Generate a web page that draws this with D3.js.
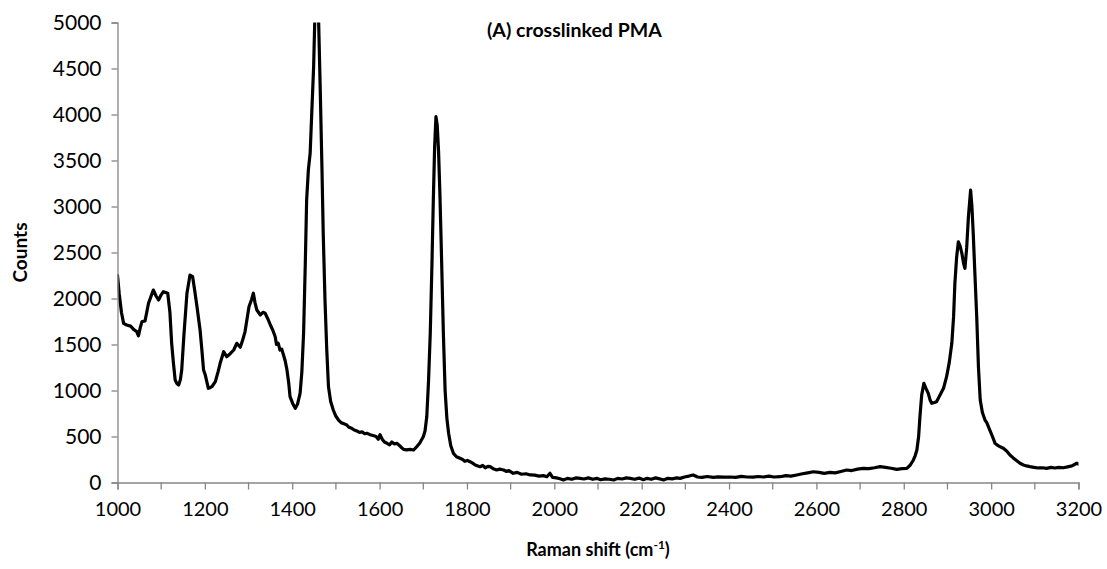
<!DOCTYPE html>
<html>
<head>
<meta charset="utf-8">
<script src="https://cdn.jsdelivr.net/npm/d3@7/dist/d3.min.js"></script>
<style>
  html, body { margin: 0; padding: 0; background: #fff; }
  svg { display: block; }
  text { font-family: Lato, "Open Sans", "Liberation Sans", sans-serif; fill: #000; }
</style>
</head>
<body>
<svg id="chart" width="1107" height="569"></svg>
<script>
// Raman spectrum of crosslinked PMA
const ramanShift = [
  1000,1004,1009,1014,1021,1030,1038,1044,1048,1052,1056,1063,1071,1082,1088,1094,1100,1105,1115,1120,
  1124,1128,1132,1136,1140,1144,1147,1152,1159,1166,1172,1177,1182,1189,1193,1197,1201,1208,1212,1216,
  1224,1230,1235,1243,1250,1258,1266,1273,1281,1286,1292,1301,1307,1311,1315,1319,1327,1333,1338,1344,
  1350,1356,1361,1364,1368,1372,1376,1380,1384,1388,1392,1395,1401,1407,1412,1418,1422,1426,1430,1433,
  1437,1441,1445,1449,1452,1456,1460,1464,1468,1471,1475,1479,1483,1488,1494,1500,1506,1512,1518,1525,
  1530,1536,1542,1548,1554,1560,1566,1571,1578,1585,1592,1597,1601,1606,1611,1617,1623,1628,1634,1640,
  1646,1650,1655,1662,1670,1678,1685,1692,1700,1704,1708,1712,1716,1720,1723,1726,1729,1732,1735,1738,
  1741,1746,1750,1754,1758,1763,1769,1776,1784,1790,1795,1801,1807,1813,1819,1825,1830,1836,1842,1848,
  1853,1860,1868,1875,1884,1890,1896,1906,1915,1925,1935,1945,1955,1965,1975,1983,1990,1996,2005,2013,
  2021,2030,2040,2050,2059,2068,2078,2088,2097,2106,2116,2126,2136,2145,2155,2165,2174,2184,2194,2204,
  2212,2222,2232,2241,2250,2260,2270,2280,2288,2298,2308,2318,2328,2338,2350,2364,2375,2388,2402,2415,
  2428,2441,2455,2467,2479,2491,2503,2517,2530,2542,2555,2568,2580,2593,2606,2618,2631,2643,2656,2669,
  2681,2694,2707,2720,2733,2746,2758,2771,2784,2796,2807,2815,2822,2826,2830,2834,2837,2841,2846,2851,
  2856,2860,2864,2870,2875,2883,2891,2898,2904,2910,2914,2917,2921,2925,2929,2933,2937,2940,2944,2948,
  2953,2956,2959,2963,2967,2971,2975,2980,2986,2990,2997,3003,3009,3016,3022,3028,3036,3043,3050,3058,
  3066,3074,3081,3089,3098,3108,3118,3127,3137,3146,3155,3165,3175,3185,3196,3200
];
const counts = [
  2250,2050,1850,1730,1712,1700,1660,1640,1595,1680,1748,1755,1948,2092,2030,1984,2040,2074,2057,1850,
  1513,1300,1114,1075,1060,1120,1223,1600,2057,2255,2237,2080,1911,1658,1450,1223,1168,1024,1030,1041,
  1096,1200,1296,1422,1367,1400,1440,1513,1470,1540,1640,1911,1990,2057,1950,1875,1821,1850,1839,1780,
  1712,1650,1585,1500,1513,1440,1450,1386,1320,1223,1080,933,860,806,850,970,1200,1622,2400,3071,
  3400,3578,4050,4520,5100,5300,5100,4300,3433,2700,1984,1450,1041,880,788,720,679,650,640,625,
  600,590,570,560,545,550,530,535,520,510,500,470,520,470,440,426,410,440,420,426,
  400,380,360,355,360,353,389,430,498,560,715,1100,1622,2400,3071,3650,3976,3880,3600,3150,
  2600,1622,1000,700,535,400,317,280,263,250,230,240,226,210,190,180,172,185,160,175,
  172,150,136,145,136,120,130,100,110,90,95,82,80,70,75,63,100,55,50,40,
  27,45,35,50,45,38,50,35,45,30,40,35,27,45,38,50,45,35,48,30,
  45,35,50,40,27,45,40,50,45,60,70,82,60,55,65,55,62,58,60,55,
  66,60,58,65,60,70,60,63,75,70,82,95,105,117,110,100,110,105,120,136,
  130,145,154,150,160,172,165,155,143,150,154,190,245,290,353,500,715,950,1078,1020,
  970,900,861,870,879,950,1024,1150,1300,1513,1800,2165,2450,2617,2570,2491,2380,2328,2550,2889,
  3179,3000,2709,2250,1802,1250,897,760,679,650,570,500,426,400,385,372,340,299,270,240,
  209,190,180,172,165,158,160,154,165,158,165,160,170,180,209,200
];
const xTicks = [1000,1200,1400,1600,1800,2000,2200,2400,2600,2800,3000,3200];
const xMinorTicks = [1100,1300,1500,1700,1900,2100,2300,2500,2700,2900,3100];
const yTicks = [0,500,1000,1500,2000,2500,3000,3500,4000,4500,5000];

const svg = d3.select("#chart");
const plotLeft = 117.5, plotRight = 1078.5, plotTop = 22.5, plotBottom = 482.5;

const x = d3.scaleLinear().domain([1000, 3200]).range([plotLeft, plotRight]);
const y = d3.scaleLinear().domain([0, 5000]).range([plotBottom, plotTop]);

const axisColor = "#868686";

// plot clip region
svg.append("defs").append("clipPath").attr("id", "plot-clip")
  .append("rect").attr("x", plotLeft).attr("y", plotTop)
  .attr("width", plotRight - plotLeft).attr("height", plotBottom - plotTop);

// spectrum
const points = ramanShift.map((v, i) => [v, counts[i]]);
svg.append("path")
  .datum(points)
  .attr("clip-path", "url(#plot-clip)")
  .attr("fill", "none")
  .attr("stroke", "#000")
  .attr("stroke-width", 3.2)
  .attr("stroke-linejoin", "round")
  .attr("stroke-linecap", "round")
  .attr("d", d3.line().x(d => x(d[0])).y(d => y(d[1])));

// y axis
const yAxis = svg.append("g")
  .attr("transform", `translate(${plotLeft},0)`)
  .call(d3.axisLeft(y).tickValues(yTicks).tickSize(6).tickPadding(10).tickFormat(d3.format("d")));
yAxis.select(".domain").attr("stroke", axisColor).attr("stroke-width", 1.3);
yAxis.selectAll(".tick line").attr("stroke", axisColor).attr("stroke-width", 1.3);
yAxis.selectAll(".tick text").attr("font-size", 21).attr("font-family", "Lato, sans-serif").attr("fill", "#000");

// x axis
const xAxis = svg.append("g")
  .attr("transform", `translate(0,${plotBottom})`)
  .call(d3.axisBottom(x).tickValues(xTicks).tickSize(7).tickPadding(12).tickFormat(d3.format("d")));
xAxis.select(".domain").attr("stroke", axisColor).attr("stroke-width", 1.3);
xAxis.selectAll(".tick line").attr("stroke", axisColor).attr("stroke-width", 1.3);
xAxis.selectAll(".tick text").attr("font-size", 20).attr("font-family", "Lato, sans-serif").attr("fill", "#000");
xAxis.selectAll(".minor").data(xMinorTicks).enter().append("line")
  .attr("class", "minor")
  .attr("x1", d => x(d)).attr("x2", d => x(d))
  .attr("y1", 0).attr("y2", 7)
  .attr("stroke", axisColor).attr("stroke-width", 1.3);

// axis titles
const xTitle = svg.append("text")
  .attr("x", (plotLeft + plotRight) / 2)
  .attr("y", 556)
  .attr("text-anchor", "middle")
  .attr("font-size", 18)
  .attr("font-weight", "bold");
xTitle.append("tspan").text("Raman shift (cm");
xTitle.append("tspan").attr("font-size", 12).attr("dy", -7).text("-1");
xTitle.append("tspan").attr("dy", 7).text(")");

svg.append("text")
  .attr("transform", `translate(27,${(plotTop + plotBottom) / 2}) rotate(-90)`)
  .attr("text-anchor", "middle")
  .attr("font-size", 19)
  .attr("font-weight", "bold")
  .text("Counts");

// panel title
svg.append("text")
  .attr("x", 487)
  .attr("y", 37)
  .attr("font-size", 19.5)
  .attr("font-weight", "bold")
  .text("(A) crosslinked PMA");
</script>
</body>
</html>
